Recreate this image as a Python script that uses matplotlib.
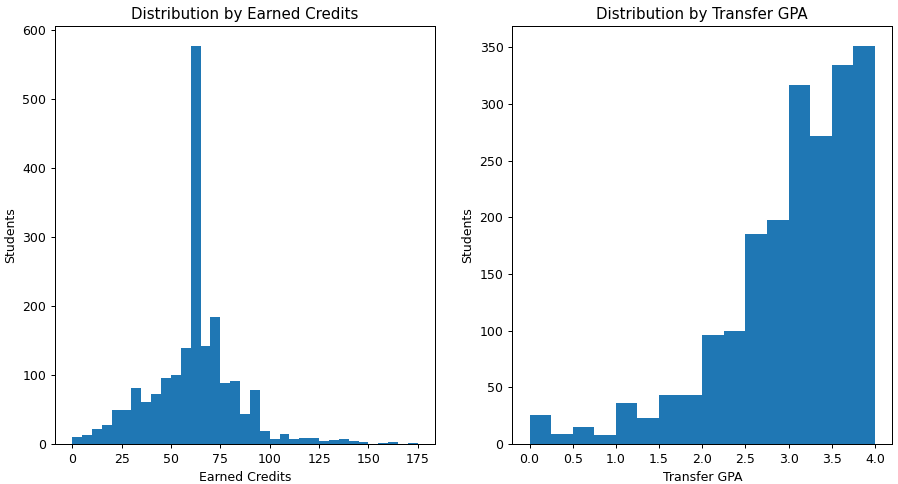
import numpy as np
import matplotlib
matplotlib.use("Agg")
import matplotlib.pyplot as plt

# Earned credits histogram (bins of 5 from 0 to 175)
credit_edges = list(range(0, 180, 5))
credit_counts = [10, 13, 22, 27, 49, 49, 81, 61, 73, 95,
                 100, 139, 577, 142, 184, 89, 92, 43, 79, 19,
                 7, 14, 8, 9, 9, 4, 6, 7, 5, 3,
                 0, 2, 3, 0, 1]

# Transfer GPA histogram (bins of 0.25 from 0 to 4)
gpa_edges = [0.0, 0.25, 0.5, 0.75, 1.0, 1.25, 1.5, 1.75, 2.0,
             2.25, 2.5, 2.75, 3.0, 3.25, 3.5, 3.75, 4.0]
gpa_counts = [26, 9, 15, 8, 36, 23, 43, 43, 96, 100,
              185, 198, 317, 272, 334, 351]

DPI = 90
fig, (ax1, ax2) = plt.subplots(1, 2, figsize=(898 / DPI, 484 / DPI), dpi=DPI)
fig.subplots_adjust(left=0.0612, right=0.9937, bottom=0.0826, top=0.946, wspace=0.203)

ce = np.array(credit_edges, dtype=float)
ax1.hist((ce[:-1] + ce[1:]) / 2, bins=ce, weights=credit_counts, color="#1f77b4")
ax1.set_title("Distribution by Earned Credits")
ax1.set_xlabel("Earned Credits")
ax1.set_ylabel("Students")

ge = np.array(gpa_edges, dtype=float)
ax2.hist((ge[:-1] + ge[1:]) / 2, bins=ge, weights=gpa_counts, color="#1f77b4")
ax2.set_title("Distribution by Transfer GPA")
ax2.set_xlabel("Transfer GPA")
ax2.set_ylabel("Students")

fig.savefig("out.png", dpi=DPI)
